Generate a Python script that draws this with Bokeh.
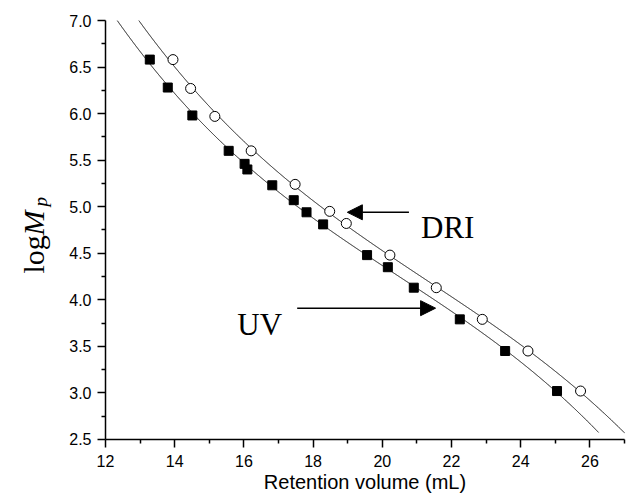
import numpy as np
from bokeh.plotting import figure
from bokeh.models import (FixedTicker, PrintfTickFormatter, Label, Arrow,
                          NormalHead, Range1d)
from bokeh.embed import file_html
from bokeh.resources import INLINE

# ---- data ----
uv_x = [13.28, 13.80, 14.51, 15.56, 16.02, 16.10, 16.82, 17.44, 17.81, 18.29,
        19.56, 20.16, 20.91, 22.24, 23.55, 25.05]
uv_y = [6.58, 6.28, 5.98, 5.60, 5.46, 5.40, 5.23, 5.07, 4.94, 4.81,
        4.48, 4.35, 4.13, 3.79, 3.45, 3.02]
dri_x = [13.95, 14.46, 15.16, 16.21, 17.48, 18.48, 18.96, 20.22, 21.56,
         22.89, 24.21, 25.73]
dri_y = [6.58, 6.27, 5.97, 5.60, 5.24, 4.95, 4.82, 4.48, 4.13, 3.79,
         3.45, 3.02]
uv_fit_range = (12.0, 26.25)
dri_fit_range = (12.0, 27.0)

x_axis_bounds = (12, 27)
y_axis_bounds = (2.5, 7.0)
x_major = [12, 14, 16, 18, 20, 22, 24, 26]
x_minor = [13, 15, 17, 19, 21, 23, 25, 27]
y_major = [2.5, 3.0, 3.5, 4.0, 4.5, 5.0, 5.5, 6.0, 6.5, 7.0]
y_minor = [2.75, 3.25, 3.75, 4.25, 4.75, 5.25, 5.75, 6.25, 6.75]

# annotation anchors (data units)
dri_arrow = dict(x_start=20.77, y_start=4.94, x_end=18.99, y_end=4.94)
uv_arrow = dict(x_start=17.54, y_start=3.91, x_end=21.54, y_end=3.91)
dri_label = (21.12, 4.78, "DRI")
uv_label = (15.81, 3.735, "UV")

# scale: 34.6 px per mL, 93.1 px per log unit; x=12 sits 105 px from the left,
# y=7.0 sits 20 px from the top
XS, YS = 34.6, 93.1
W, H = 626, 501
x_lo, x_hi = 12 - 105 / XS, 12 + (W - 105) / XS
y_lo, y_hi = 7.0 - (H - 20) / YS, 7.0 + 20 / YS

p = figure(width=W, height=H, output_backend="svg", toolbar_location=None,
           x_range=Range1d(x_lo, x_hi), y_range=Range1d(y_lo, y_hi),
           min_border_left=0, min_border_right=0, min_border_top=0,
           min_border_bottom=0)
p.frame_width = W
p.frame_height = H
p.outline_line_color = None
p.grid.visible = False
p.background_fill_color = "white"
p.border_fill_color = "white"

# fitted curves (cubic fits through the data), shown up to the top of the axis
for xs, ys, rng in [(uv_x, uv_y, uv_fit_range), (dri_x, dri_y, dri_fit_range)]:
    c = np.polyfit(xs, ys, 3)
    xx = np.linspace(rng[0], rng[1], 3000)
    yy = np.polyval(c, xx)
    m = yy <= y_axis_bounds[1]
    p.line(xx[m], yy[m], line_color="black", line_width=1)

p.scatter(uv_x, uv_y, marker="square", size=9, fill_color="black",
          line_color="black")
p.scatter(dri_x, dri_y, marker="circle", size=10, fill_color="white",
          line_color="black", line_width=1)

for ax in (p.xaxis[0], p.yaxis[0]):
    ax.axis_line_color = "black"
    ax.axis_line_width = 1.5
    ax.major_tick_line_color = "black"
    ax.major_tick_line_width = 1.5
    ax.minor_tick_line_color = "black"
    ax.minor_tick_line_width = 1.5
    ax.major_tick_in = 0
    ax.major_tick_out = 8
    ax.minor_tick_in = 0
    ax.minor_tick_out = 4
    ax.major_label_text_font = "Liberation Sans"
    ax.major_label_text_font_size = "16px"
    ax.major_label_text_color = "black"

p.xaxis.ticker = FixedTicker(ticks=x_major, minor_ticks=x_minor)
p.yaxis.ticker = FixedTicker(ticks=y_major, minor_ticks=y_minor)
p.xaxis.bounds = x_axis_bounds
p.yaxis.bounds = y_axis_bounds
p.yaxis.fixed_location = x_axis_bounds[0]
p.xaxis.fixed_location = y_axis_bounds[0]
p.yaxis.formatter = PrintfTickFormatter(format="%.1f")
p.xaxis.major_label_standoff = 8
p.yaxis.major_label_standoff = 6

p.xaxis.axis_label = "Retention volume (mL)"
p.xaxis.axis_label_text_font = "Liberation Sans"
p.xaxis.axis_label_text_font_style = "normal"
p.xaxis.axis_label_text_font_size = "20px"
p.xaxis.axis_label_text_color = "black"
p.xaxis.axis_label_standoff = 0

p.add_layout(Arrow(end=NormalHead(size=15, fill_color="black", line_color="black"),
                   line_color="black", line_width=1.5, **dri_arrow))
p.add_layout(Arrow(end=NormalHead(size=15, fill_color="black", line_color="black"),
                   line_color="black", line_width=1.5, **uv_arrow))

for (lx, ly, txt) in (dri_label, uv_label):
    p.add_layout(Label(x=lx, y=ly, text=txt, text_font="Liberation Serif",
                       text_font_size="31px", text_color="black",
                       text_baseline="alphabetic", text_align="left"))

# y axis label: log M_p (rotated), placed left of the axis
def px_to_x(px):
    return 12 + (px - 105) / XS

def py_to_y(py):
    return 7.0 - (py - 20) / YS

for txt, bx, by, size, style in [("log", 33, 273, "30px", "normal"),
                                 ("M", 33, 235, "30px", "italic"),
                                 ("p", 39.5, 206, "19px", "italic")]:
    p.add_layout(Label(x=px_to_x(bx), y=py_to_y(by), text=txt, angle=np.pi / 2,
                       text_font="Liberation Serif", text_font_style=style,
                       text_font_size=size, text_color="black",
                       text_baseline="alphabetic", text_align="left"))

open("out.html", "w").write(file_html(p, INLINE))
